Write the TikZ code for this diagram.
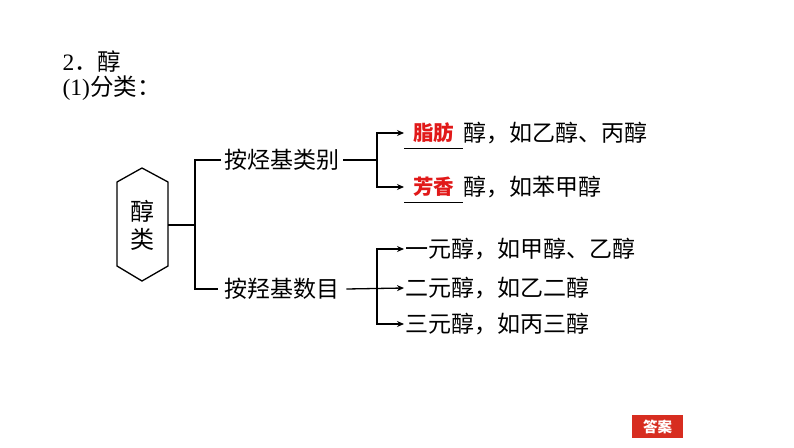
\documentclass[tikz,border=0pt]{standalone}
\usepackage{fontspec}
\setmainfont{Liberation Serif}
\newfontfamily\cjk{Noto Sans CJK SC}
\usetikzlibrary{arrows.meta}
\definecolor{ansred}{RGB}{215,45,32}
\definecolor{txtred}{RGB}{225,25,25}
\begin{document}
\begin{tikzpicture}[x=1pt,y=-1pt,line width=1.3pt,
  txt/.style={font=\cjk\fontsize{23}{27}\selectfont,inner sep=3pt,anchor=west},
  blank/.style={anchor=west,inner sep=0pt,minimum width=58pt,minimum height=30pt,
    font=\cjk\bfseries\fontsize{20.5}{24}\selectfont,text=txtred},
  arr/.style={-{Stealth[length=7pt,width=6pt]}}]
\useasboundingbox (0,0) rectangle (794,447);
% title
\node[anchor=west,inner sep=0pt,font=\fontsize{23.5}{27}\selectfont] (t1) at (62,61) {2{\cjk ．醇}};
\node[anchor=west,inner sep=0pt,font=\fontsize{23.5}{27}\selectfont] (t2) at (62,88) {(1){\cjk 分类：}};
% hexagon
\node[align=center,inner sep=0pt,font=\cjk\fontsize{24}{28}\selectfont] (hex) at (142,225) {醇\\类};
\draw[shift={(hex.center)}] (-25,-43)--(0,-57)--(26,-43)--(26,41)--(0,56)--(-25,41)--cycle;
\coordinate (hexR) at (168,225);
\coordinate (j1) at (195,225);
% branches
\node[txt] (b1) at (221,160) {按烃基类别};
\node[txt,inner sep=6pt] (b2) at (218,289) {按羟基数目};
\draw (hexR) -- (j1);
\draw (b1.west) -| (j1) |- (b2.west);
% top group
\coordinate (j2) at (377,160);
\node[blank] (r1) at (404,133) {脂肪};
\node[blank] (r2) at (404,187) {芳香};
\draw[line width=1pt] (r1.south west) -- (r1.south east);
\draw[line width=1pt] (r2.south west) -- (r2.south east);
\node[txt,inner sep=0pt] (r1t) at (r1.east) {醇，如乙醇、丙醇};
\node[txt,inner sep=0pt] (r2t) at (r2.east) {醇，如苯甲醇};
\draw (b1.east) -- (j2);
\draw[arr] (j2) |- (r1.west);
\draw[arr] (j2) |- (r2.west);
% bottom group
\coordinate (j3) at (377,288);
\node[txt,inner sep=1pt] (s1) at (404,249) {一元醇，如甲醇、乙醇};
\node[txt,inner sep=1pt] (s2) at (404,288) {二元醇，如乙二醇};
\node[txt,inner sep=1pt] (s3) at (404,324) {三元醇，如丙三醇};
\draw[arr] (b2.east) -- (s2.west);
\draw[arr] (j3) |- (s1.west);
\draw[arr] (j3) |- (s3.west);
% answer button
\node[fill=ansred,text=white,inner sep=0pt,minimum width=51pt,minimum height=23pt,
  font=\cjk\bfseries\fontsize{14.5}{16}\selectfont] (ans) at (657.5,426.5) {答案};
\end{tikzpicture}
\end{document}
